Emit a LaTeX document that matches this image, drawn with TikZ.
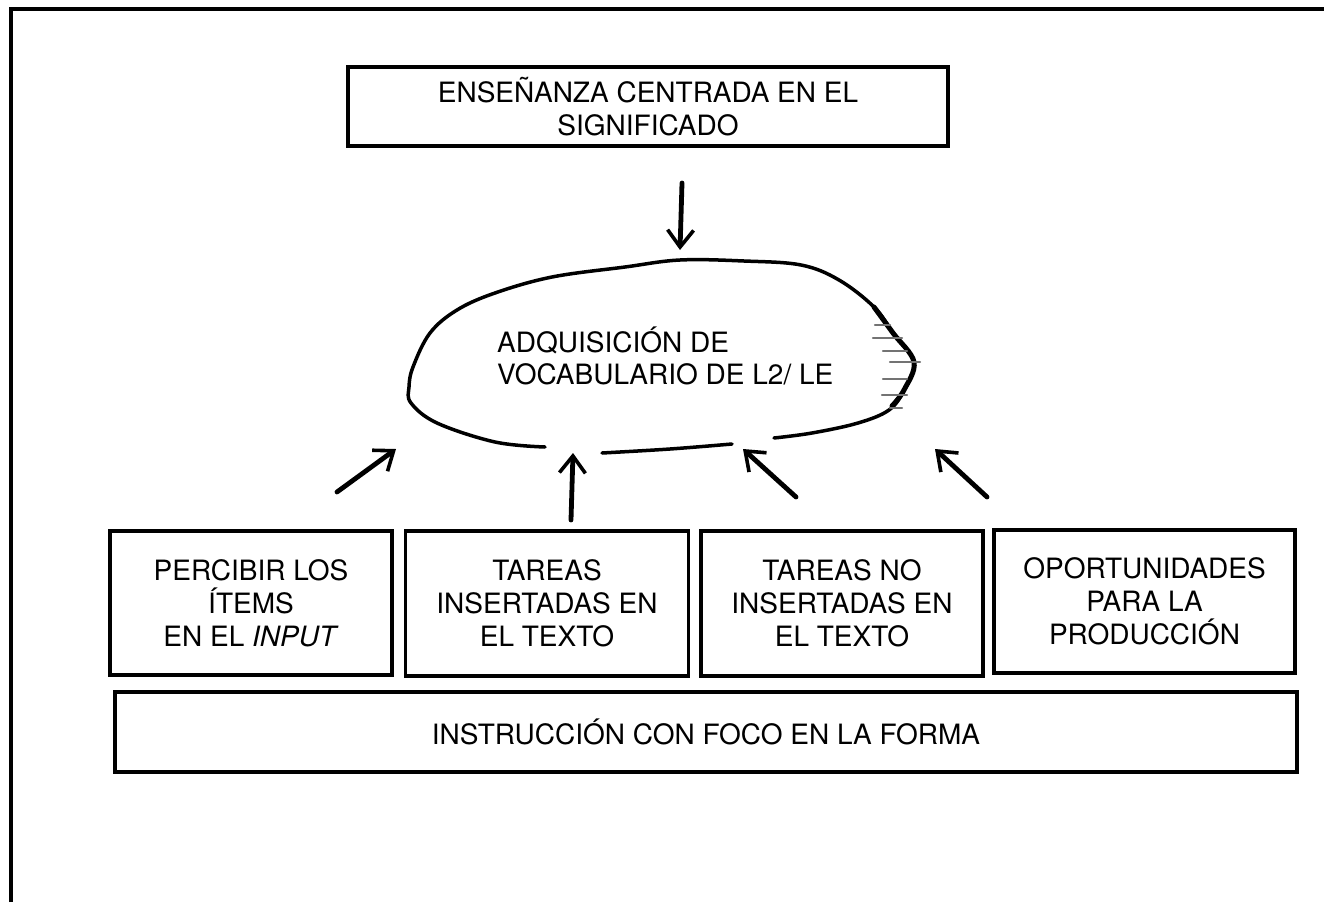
\documentclass[tikz,border=0pt]{standalone}
\usepackage{fontspec}
\setmainfont{TeX Gyre Heros}
\usetikzlibrary{arrows.meta}
\begin{document}
\begin{tikzpicture}[x=1pt,y=-1pt,
  boxnode/.style={draw, line width=3.8pt, inner sep=0pt, align=center, font=\fontsize{28}{33}\selectfont},
  txt/.style={inner sep=0pt, align=left, font=\fontsize{28}{32}\selectfont},
  arr/.style={line width=4.8pt, line cap=round, -{Straight Barb[length=17pt,width=26pt,line width=3.6pt]}},
  blobline/.style={line width=3.5pt, line cap=round},
  hatch/.style={line width=2.2pt, black!55, line cap=round}]
\useasboundingbox (0,0) rectangle (1324,902);
% frame
\draw[line width=4.5pt] (11,902) -- (11,9) -- (1324,9);
% boxes
\node[boxnode, minimum width=600pt, minimum height=79pt] (top) at (648,106.5) {ENSEÑANZA CENTRADA EN EL\\SIGNIFICADO};
\node[boxnode, minimum width=282pt, minimum height=144pt] (b1) at (251,603) {PERCIBIR LOS\\ÍTEMS\\EN EL \textit{INPUT}};
\node[boxnode, minimum width=283pt, minimum height=145pt] (b2) at (547,603.5) {TAREAS\\INSERTADAS EN\\EL TEXTO};
\node[boxnode, minimum width=282pt, minimum height=145pt] (b3) at (842,603.5) {TAREAS NO\\INSERTADAS EN\\EL TEXTO};
\node[boxnode, minimum width=301pt, minimum height=143pt] (b4) at (1144.5,601.5) {OPORTUNIDADES\\PARA LA\\PRODUCCIÓN};
\node[boxnode, minimum width=1182pt, minimum height=80pt] (bot) at (706,732) {INSTRUCCIÓN CON FOCO EN LA FORMA};
% blob
\draw[blobline] plot[smooth, tension=0.6] coordinates {(545,447) (495,442) (437,423) (411,403) (409,387) (413,367) (430,333) (457,310) (495,293) (552,277) (625,267) (680,260) (744,261) (801,265) (839,280) (874,307) (893,333) (914,362) (904,390) (889,410) (858,423) (812,433) (774,438)};
\draw[line width=5pt, line cap=round] plot[smooth, tension=0.6] coordinates {(874,307) (893,333) (914,362) (904,390) (892,406)};
\draw[blobline] plot[smooth, tension=0.6] coordinates {(732,444) (670,449) (602,453)};
% hatches
\draw[hatch] (875,325) -- (890,325);
\draw[hatch] (873,338) -- (902,338);
\draw[hatch] (883,351) -- (907,351);
\draw[hatch] (890,362) -- (920,362);
\draw[hatch] (883,379) -- (907,379);
\draw[hatch] (882,395) -- (907,395);
\draw[hatch] (890,408) -- (902,408);
\node[txt, anchor=west] (blobtxt) at (497,356) {ADQUISICIÓN DE\\VOCABULARIO DE L2/ LE};
% arrows
\coordinate (a0s) at (682,183); \coordinate (a0e) at (680,250);
\coordinate (a1s) at (337,492); \coordinate (a1e) at (396,449);
\coordinate (a2s) at (571,520); \coordinate (a2e) at (573,453);
\coordinate (a3s) at (796,497); \coordinate (a3e) at (743,449);
\coordinate (a4s) at (987,497); \coordinate (a4e) at (935,449);
\draw[arr] (a0s) -- (a0e);
\draw[arr] (a1s) -- (a1e);
\draw[arr] (a2s) -- (a2e);
\draw[arr] (a3s) -- (a3e);
\draw[arr] (a4s) -- (a4e);
\end{tikzpicture}
\end{document}
